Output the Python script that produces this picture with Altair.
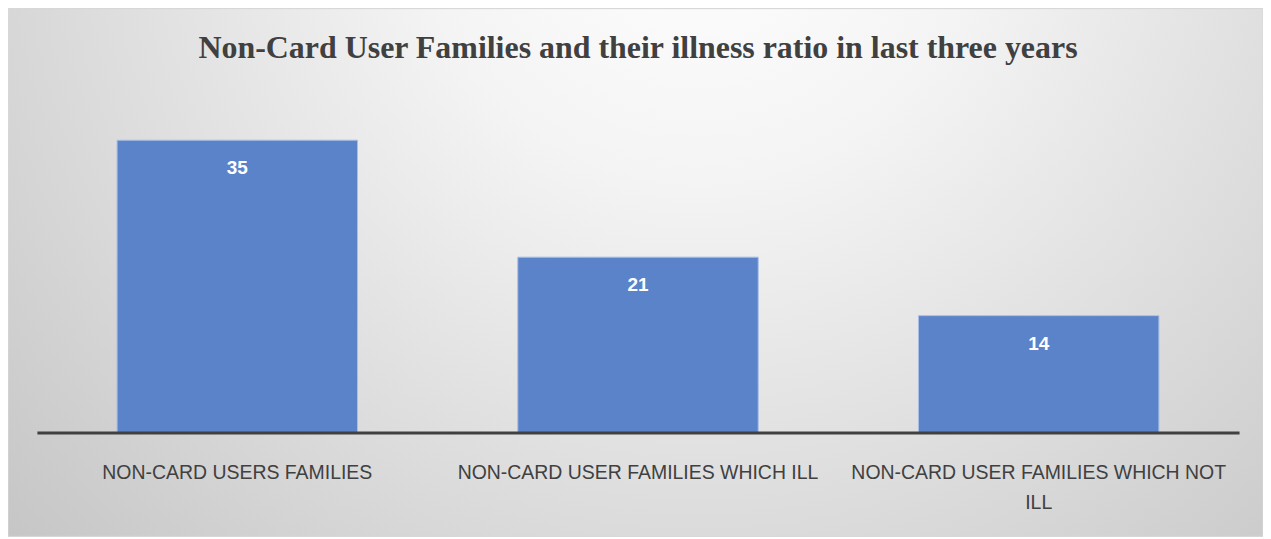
import altair as alt
import pandas as pd

categories = [
    "NON-CARD USERS FAMILIES",
    "NON-CARD USER FAMILIES WHICH ILL",
    "NON-CARD USER FAMILIES WHICH NOT ILL",
]
values = [35, 21, 14]
title_text = "Non-Card User Families and their illness ratio in last three years"

df = pd.DataFrame({"cat": categories, "val": values})

W, H = 1205, 335
PL, PT, PR, PB = 29, 90, 24, 104

bg = alt.Chart(pd.DataFrame({"a": [0]})).mark_rect(
    fill=alt.RadialGradient(
        gradient="radial",
        x1=0.55, y1=0.2, r1=0,
        x2=0.55, y2=0.2, r2=0.75,
        stops=[
            alt.GradientStop(offset=0, color="#ffffff"),
            alt.GradientStop(offset=0.3, color="#f4f4f4"),
            alt.GradientStop(offset=1, color="#c6c6c6"),
        ],
    ),
    stroke="#d8d8d8",
).encode(
    x=alt.value(-PL), x2=alt.value(W + PR),
    y=alt.value(-PT), y2=alt.value(H + PB),
)

base = alt.Chart(df)
x_enc = alt.X(
    "cat:N",
    sort=categories,
    scale=alt.Scale(paddingInner=0.4, paddingOuter=0.2),
    axis=alt.Axis(
        title=None,
        labelAngle=0,
        labelFont="Liberation Sans",
        labelFontSize=19.5,
        labelColor="#404040",
        labelPadding=31,
        labelLineHeight=30,
        labelLimit=0,
        ticks=False,
        domainColor="#404040",
        domainWidth=3,
        zindex=2,
        labelExpr="datum.value == 'NON-CARD USER FAMILIES WHICH NOT ILL' ? ['NON-CARD USER FAMILIES WHICH NOT', 'ILL'] : datum.value",
    ),
)
y_enc = alt.Y("val:Q", scale=alt.Scale(domain=[0, 40]), axis=None)

bars = base.mark_bar(color="#5b83c9", stroke="#a8bfe6", strokeWidth=1).encode(x=x_enc, y=y_enc)
labels = base.mark_text(
    color="white", font="Liberation Sans", fontWeight="bold", fontSize=19,
    baseline="middle", dy=28,
).encode(x=x_enc, y=y_enc, text="val:Q")

chart = alt.layer(bg, bars, labels).properties(
    width=W, height=H,
    title=alt.TitleParams(
        title_text, font="Liberation Serif", fontSize=32, fontWeight="bold",
        color="#404040", anchor="middle", offset=0, dy=82, frame="group", zindex=2,
        baseline="alphabetic",
    ),
    autosize=alt.AutoSizeParams(type="none"),
    padding={"left": PL, "top": PT, "right": PR, "bottom": PB},
).configure_view(stroke=None).configure(background="#d0d0d0")

chart.save("out.html", embed_options={"renderer": "svg", "actions": False})
